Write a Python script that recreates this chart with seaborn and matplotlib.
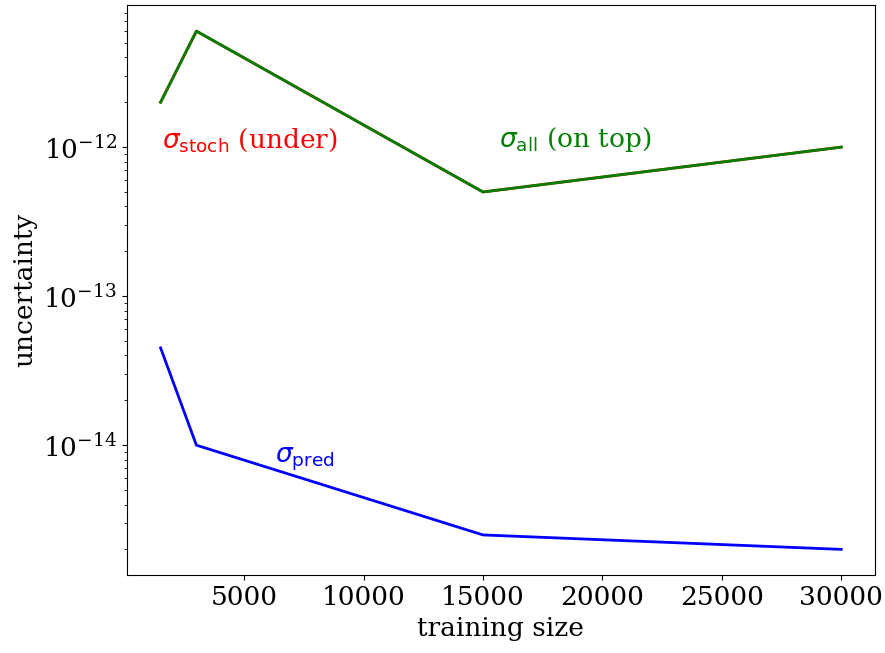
import matplotlib
matplotlib.use("Agg")
import matplotlib.pyplot as plt
import seaborn as sns
import pandas as pd

# training-set sizes and the resulting uncertainties
train_size = [1500, 3000, 15000, 30000]
sigma_stoch = [2e-12, 6e-12, 5e-13, 1e-12]
sigma_all = [2e-12, 6e-12, 5e-13, 1e-12]
sigma_pred = [4.5e-14, 1e-14, 2.5e-15, 2e-15]

plt.rcParams["font.family"] = ["DejaVu Serif"]
plt.rcParams["mathtext.fontset"] = "dejavusans"
plt.rcParams["font.size"] = 19

df = pd.DataFrame({"size": train_size, "stoch": sigma_stoch,
                   "all": sigma_all, "pred": sigma_pred})

fig, ax = plt.subplots(figsize=(8.85, 6.53), dpi=100)
sns.lineplot(data=df, x="size", y="stoch", color="red", lw=2, ax=ax)
sns.lineplot(data=df, x="size", y="all", color="green", lw=2, ax=ax)
sns.lineplot(data=df, x="size", y="pred", color="blue", lw=2, ax=ax)
ax.set_yscale("log")

ax.text(1550, 1e-12, r"$\sigma_{\mathrm{stoch}}$ (under)", color="red",
        fontsize=19)
ax.text(15650, 1e-12, r"$\sigma_{\mathrm{all}}$ (on top)", color="green",
        fontsize=19)
ax.text(6300, 7.7e-15, r"$\sigma_{\mathrm{pred}}$", color="blue",
        fontsize=19)

ax.set_xlabel("training size", fontsize=19)
ax.set_ylabel("uncertainty", fontsize=19)
ax.tick_params(labelsize=19)

fig.subplots_adjust(left=0.143, right=0.989, top=0.992, bottom=0.119)
fig.savefig("out.png", dpi=100)
